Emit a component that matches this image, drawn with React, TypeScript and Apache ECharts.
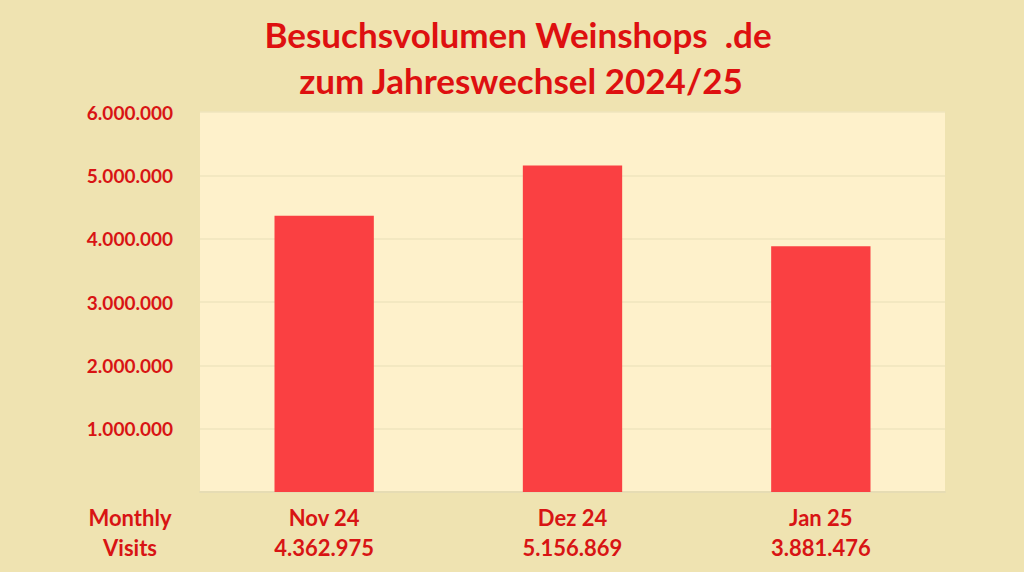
import React, { useEffect, useRef } from "react";
import * as echarts from "echarts";

const titleLines = ["Besuchsvolumen Weinshops  .de", "zum Jahreswechsel 2024/25"];
const categories = ["Nov 24", "Dez 24", "Jan 25"];
const visits = [4362975, 5156869, 3881476];
const rowLabel = ["Monthly", "Visits"];
const yMax = 6000000;
const yStep = 1000000;

const fmt = (v: number) => String(Math.round(v)).replace(/\B(?=(\d{3})+(?!\d))/g, ".");

export default function App() {
  const ref = useRef<HTMLDivElement>(null);
  useEffect(() => {
    if (!ref.current) return;
    const chart = echarts.init(ref.current, undefined, { renderer: "svg" });
    const red = "#D81414";
    const titleStyle = {
      fontFamily: "Lato",
      fontWeight: "bold",
      fontSize: 35,
      fill: "#DE1010",
      textAlign: "center",
      textVerticalAlign: "middle",
    };
    chart.setOption({
      animation: false,
      backgroundColor: "#EFE3B1",
      textStyle: { fontFamily: "Lato" },
      grid: {
        left: 200,
        right: 79,
        top: 112,
        bottom: 80,
        show: true,
        backgroundColor: "#FEF1CB",
        borderWidth: 0,
      },
      graphic: [
        { type: "text", x: 518, y: 34, style: { ...titleStyle, text: titleLines[0] } },
        { type: "text", x: 521, y: 80, style: { ...titleStyle, text: titleLines[1] } },
        {
          type: "text",
          x: 130,
          y: 532,
          style: {
            text: rowLabel.join("\n"),
            fontFamily: "Lato",
            fontWeight: "bold",
            fontSize: 22,
            lineHeight: 30,
            fill: red,
            textAlign: "center",
            textVerticalAlign: "middle",
          },
        },
      ],
      xAxis: {
        type: "category",
        data: categories,
        axisTick: { show: false },
        axisLine: { show: true, lineStyle: { color: "#E6DCB4", width: 2 } },
        axisLabel: {
          margin: 10,
          formatter: (v: string, i: number) => `{a|${v}}\n{a|${fmt(visits[i])}}`,
          rich: {
            a: {
              fontFamily: "Lato",
              fontWeight: "bold",
              fontSize: 22,
              lineHeight: 30,
              color: red,
            },
          },
        },
      },
      yAxis: {
        type: "value",
        min: 0,
        max: yMax,
        interval: yStep,
        axisLine: { show: false },
        axisTick: { show: false },
        splitLine: { lineStyle: { color: "#EFE4BE", width: 1.5 } },
        axisLabel: {
          margin: 27,
          fontFamily: "Lato",
          fontWeight: "bold",
          fontSize: 19,
          color: red,
          formatter: (v: number) => (v === 0 ? "" : fmt(v)),
        },
      },
      series: [
        {
          type: "bar",
          data: visits,
          barCategoryGap: "60%",
          itemStyle: { color: "#FA4042" },
        },
      ],
    });
    return () => chart.dispose();
  }, []);
  return (
    <div
      ref={ref}
      style={{ position: "fixed", left: 0, top: 0, width: 1024, height: 572 }}
    />
  );
}
